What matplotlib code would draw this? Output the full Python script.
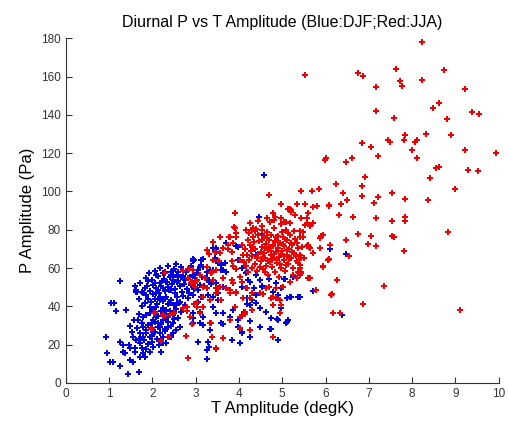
import matplotlib
matplotlib.use("Agg")
import matplotlib.pyplot as plt

plt.rcParams['font.family'] = ['Liberation Sans', 'DejaVu Sans']

# DJF (blue) points: (T amplitude, P amplitude)
djf_pts = [
    (4.58,108.8),(1.26,53.0),(1.04,41.6),(1.12,41.9),(1.17,37.7),(1.39,37.9),(0.94,23.8),(0.96,15.5),
    (1.02,10.8),(1.09,10.8),(1.69,5.9),(1.44,4.5),(1.25,8.9),(1.25,21.5),(1.32,19.8),(1.36,15.8),
    (1.31,16.3),(1.48,29.7),(1.52,26.8),(1.55,24.2),(1.63,22.4),(1.46,19.8),(1.49,18.1),(1.59,16.3),
    (1.48,12.0),(1.55,11.1),(1.71,20.7),(1.75,18.1),(1.79,15.5),(1.86,17.5),(1.94,16.3),(1.82,13.7),
    (1.71,13.7),(1.67,32.9),(1.75,31.1),(1.86,27.6),(1.71,25.9),(1.79,24.2),(1.94,24.2),(1.98,21.5),
    (2.02,18.9),(2.21,16.3),(2.25,20.7),(1.63,47.6),(1.79,46.8),(1.86,45.9),(2.09,46.8),(2.17,43.3),
    (2.32,45.0),(2.40,41.6),(1.94,39.8),(2.02,32.9),(2.13,31.1),(2.25,32.9),(2.36,29.4),(2.48,31.1),
    (1.86,35.5),(1.79,34.6),(2.32,38.1),(2.44,24.2),(2.32,20.7),(2.17,25.9),(2.06,26.8),
    (1.59,50.8),(1.71,52.0),(1.90,53.2),(2.08,56.3),(2.25,57.2),(2.40,55.4),(2.44,58.1),
    (1.63,48.5),(1.75,47.6),(1.82,49.4),(2.02,51.1),(2.17,52.0),(2.32,52.8),(2.48,53.7),(2.13,48.5),
    (2.25,49.4),(2.36,50.2),(2.44,48.5),(1.65,47.6),(1.88,50.6),(2.06,52.0),(2.09,56.3),(2.26,54.1),
    (2.48,55.1),(2.57,52.8),(2.67,55.4),(2.76,53.7),(2.86,55.4),(2.94,56.3),(3.02,57.2),(2.96,64.2),
    (3.13,64.2),(3.17,60.7),(3.48,69.7),(3.45,64.5),(3.52,62.4),(3.25,54.6),(3.36,51.5),(3.48,52.0),
    (3.28,45.9),(3.40,44.7),(3.52,46.8),(3.05,42.4),(3.13,45.0),(2.94,45.9),(2.82,44.2),(2.63,42.4),
    (2.52,46.8),(2.17,45.0),(2.09,39.8),(2.25,39.0),(2.56,41.6),(2.09,34.6),(2.32,32.9),
    (2.63,29.4),(2.17,29.4),(1.98,31.1),(1.79,29.4),(1.86,25.9),(2.02,26.8),(2.48,25.9),
    (3.05,21.5),(3.26,12.3),(3.17,34.6),(3.09,31.1),(2.86,34.6),(2.94,36.3),(2.94,64.5),(3.09,60.7),
    (3.40,70.3),(3.46,68.5),(3.59,61.6),(3.63,59.0),(3.40,59.0),(3.94,71.5),(3.98,64.2),(3.71,58.1),
    (4.17,57.2),(4.21,53.7),(4.06,50.2),(4.48,53.7),(4.54,50.6),(4.69,54.1),(4.86,52.0),(5.06,54.1),
    (5.17,44.7),(5.36,45.0),(5.71,48.0),(6.11,69.7),(6.47,67.4),(6.37,35.6),(5.40,45.0),(3.63,50.2),
    (3.52,43.3),(3.40,39.8),(3.63,36.3),(3.86,38.1),(3.98,32.9),(4.25,40.7),(4.40,41.6),(4.63,37.2),
    (4.75,33.7),(4.90,32.9),(5.09,31.1),(5.13,32.9),(4.48,29.4),(4.71,28.0),(4.90,22.4),(4.25,23.8),
    (4.02,20.7),(3.83,22.4),(3.62,30.8),(3.33,27.6),(3.29,21.5),(3.25,12.5),(2.94,31.1),
    (4.46,86.8),(4.52,77.7),(4.39,66.8),(4.08,59.8),(4.19,57.7),(4.39,56.3),(4.25,52.8),(4.34,49.4),
    (4.54,50.2),(4.40,45.9),(4.79,47.6),(4.90,45.9),(4.96,49.4),(5.03,54.3),(5.10,44.2),(5.19,45.0),
    (4.19,44.2),(4.19,41.1),(4.31,43.3),(4.48,39.0),(4.97,39.0),(4.11,37.2),(4.08,35.1),
    (4.25,32.3),(4.73,28.2),(4.88,33.4),(5.10,31.7),(4.06,26.4),(4.26,24.0),(5.25,55.4),
    (3.69,73.2),(3.48,70.3),(3.44,65.0),(3.17,64.5),(3.13,61.6),(2.94,63.8),(2.90,61.0),(3.05,59.0),
    (3.33,59.0),(3.59,59.0),(3.67,62.4),(3.98,71.1),(2.48,58.6),(2.56,56.3),(2.86,55.4),(2.98,54.6),
    (3.29,53.7),(3.31,18.9),(3.25,17.2),(3.59,31.1),(3.98,29.4),(4.06,26.2),(3.17,30.3),(2.94,33.7),
    (3.09,37.2),(3.48,36.3),(3.79,34.3),
    (1.85,55.0),(1.92,57.5),(2.00,54.0),(2.05,58.5),(2.12,56.0),(2.18,60.2),(2.22,53.5),(2.30,58.0),
    (2.35,61.0),(2.42,56.5),(2.50,59.5),(2.55,62.0),(2.60,57.8),(2.65,60.8),(2.70,55.8),(2.78,58.2),
    (1.88,50.5),(1.95,48.0),(2.02,46.5),(2.08,49.8),(2.15,47.2),(2.20,50.8),(2.28,47.8),(2.33,52.5),
    (2.38,48.8),(2.45,51.5),(2.52,49.0),(2.58,53.0),(2.63,50.5),(2.68,47.5),(2.73,51.8),(2.80,49.2),
    (1.90,44.0),(1.97,42.5),(2.05,43.8),(2.10,41.2),(2.18,44.5),(2.25,42.8),(2.30,44.0),(2.36,41.5),
    (2.44,43.5),(2.50,40.5),(2.57,44.8),(2.62,42.0),(2.70,45.5),(2.75,40.8),(1.95,36.5),(2.00,38.8),
    (2.07,37.0),(2.13,35.0),(2.20,37.8),(2.27,36.2),(2.35,34.8),(2.40,37.5),(2.47,35.5),(2.55,38.5),
    (2.60,34.0),(2.67,37.0),(1.90,30.5),(2.00,28.5),(2.06,31.8),(2.12,29.0),(2.20,30.8),(2.28,28.2),
    (2.35,32.0),(2.42,29.5),(2.50,33.5),(2.55,27.5),(1.80,22.5),(1.90,20.5),(2.00,24.5),(2.10,22.8),
    (2.15,20.0),(2.25,24.0),(2.30,27.0),(1.60,18.5),(1.70,23.0),(1.65,28.5),(1.58,33.0),(1.70,36.0),
    (1.75,40.0),(1.68,44.0),(1.82,42.0),(2.85,47.0),(2.90,51.0),(2.95,49.0),(3.00,53.5),(3.05,48.5),
    (3.10,51.0),(3.15,55.5),(3.20,50.5),(3.25,58.0),(3.30,52.5),
]

# JJA (red) points: (T amplitude, P amplitude)
jja_pts = [
    (8.22,178.0),(5.53,160.8),(6.74,161.9),(6.86,160.1),(7.62,164.0),(7.71,157.7),(7.76,155.0),
    (8.22,158.0),(8.73,163.4),(7.17,154.4),(9.21,153.4),(7.17,141.9),(7.57,138.6),(8.49,143.8),
    (8.61,146.0),(9.38,141.4),(9.54,140.7),(8.80,138.0),(8.89,129.7),(8.31,130.2),(6.83,125.5),
    (7.04,123.4),(7.45,127.1),(7.48,125.9),(7.83,129.4),(7.81,127.1),(8.06,125.9),(8.11,126.8),
    (8.00,121.9),(8.10,117.7),(9.21,121.5),(9.94,120.1),(5.98,116.3),(6.02,117.7),(6.47,115.6),
    (6.60,117.7),(7.22,118.7),(6.92,107.8),(8.42,106.8),(8.56,112.3),(8.61,113.0),(9.28,111.4),
    (9.52,110.9),(9.00,101.4),(6.23,104.1),(6.85,103.1),(5.43,100.5),(5.69,100.3),(5.85,101.5),
    (6.40,99.4),(6.85,97.7),(7.22,97.2),(7.54,99.3),(5.53,93.7),(5.71,92.0),(5.80,92.5),(6.08,92.5),
    (6.36,93.2),(6.50,95.6),(7.12,94.1),(7.83,96.1),(8.37,95.6),(6.31,87.8),(6.64,86.8),(7.17,86.2),
    (7.53,84.5),(7.84,86.8),(7.84,84.5),(8.82,78.8),(5.40,79.5),(5.53,82.6),(5.63,82.1),(5.70,83.3),
    (5.57,86.2),(5.90,76.9),(5.94,77.4),(5.47,76.2),(6.46,74.6),(6.74,77.9),(7.04,76.9),(7.54,76.7),
    (7.57,76.0),(6.97,72.7),(7.17,71.5),(7.81,68.9),(5.57,71.6),(5.62,70.9),(5.88,70.4),(6.11,72.0),
    (5.71,67.8),(6.53,66.2),(5.44,65.2),(6.07,64.5),(5.94,61.0),(5.40,61.6),(5.44,58.1),(5.44,57.2),
    (5.65,54.6),(6.27,53.7),(7.34,50.4),(6.15,46.2),(6.87,41.5),(6.34,36.3),(9.10,37.9),
    (2.29,57.2),(2.70,58.4),(2.84,59.5),(3.30,67.1),(3.38,57.7),(3.46,59.0),(2.92,52.5),(2.99,52.3),
    (3.25,49.4),(3.52,49.4),(2.71,39.0),(2.79,37.7),(3.03,41.9),(2.97,41.2),(3.18,39.5),(2.49,36.3),
    (2.27,35.0),(2.92,30.8),(3.33,31.1),(3.38,24.2),(3.48,17.5),(2.19,22.1),(2.39,24.2),(1.96,28.0),
    (2.04,36.7),(2.82,13.2),(2.77,24.7),(2.06,36.7),(2.25,35.5),(2.40,35.5),(1.98,28.0),(2.21,22.1),
    (2.36,24.2),
    (4.69,98.1),(4.98,93.2),(5.33,93.7),(3.90,88.8),(5.13,90.6),(5.20,90.2),(4.79,88.5),(4.83,86.8),
    (5.29,87.6),(5.60,88.5),(6.08,92.9),(4.25,83.3),(3.90,80.7),(4.17,79.8),(4.29,79.8),(4.52,79.8),
    (3.56,76.3),(3.79,76.3),(3.75,72.0),(3.40,73.7),(3.25,69.4),(3.56,68.0),(3.83,68.5),(3.40,64.2),
    (5.94,77.2),(5.87,75.5),(5.60,72.0),(5.63,70.3),(5.71,67.7),(5.94,60.7),(6.06,64.2),(6.26,53.7),
    (6.13,45.9),(6.16,36.3),(5.60,54.6),(5.40,59.8),(5.36,58.1),(5.79,48.5),(5.25,56.3),
    (3.25,60.7),(3.09,56.3),(2.94,59.0),(2.82,54.6),(2.98,50.2),(3.17,50.2),(3.40,53.7),(3.48,49.4),
    (3.63,54.6),(3.86,52.0),(4.06,52.8),(3.79,48.5),(3.94,46.8),(4.17,49.4),(4.25,44.2),(4.48,46.8),
    (4.63,49.4),(4.79,45.0),(4.94,43.3),(4.79,40.7),(4.13,37.2),(4.02,34.6),(3.90,39.8),(3.59,43.3),
    (3.33,43.3),(3.17,45.0),(3.02,39.8),(2.79,39.8),(2.86,34.6),(3.09,36.3),(3.36,31.1),(3.48,18.1),
    (2.82,12.8),(3.63,23.3),(4.02,28.5),(3.79,32.9),
    (5.17,90.6),(5.21,89.4),(5.34,93.7),(5.52,93.7),(5.70,92.0),(4.97,86.4),(5.29,87.9),(5.44,86.4),
    (5.56,83.3),(5.63,82.4),(5.09,84.2),(5.17,83.3),(4.33,80.7),(4.36,79.3),(4.21,74.6),(4.33,71.1),
    (4.16,61.2),(4.30,60.2),(4.19,49.4),(4.29,46.8),(4.09,44.2),(4.56,46.3),(4.69,50.2),(4.85,49.4),
    (4.73,44.2),(4.86,44.5),(5.02,50.2),(5.17,52.8),(5.33,54.6),(5.40,56.3),(5.63,54.6),(4.98,40.7),
    (4.94,36.3),(4.29,38.1),(4.13,35.8),(4.79,24.2),(4.25,27.6),(5.36,62.4),(5.40,59.8),(5.39,57.2),
    (3.88,81.5),(3.93,78.4),(3.77,76.3),(3.94,76.0),(3.86,72.9),(3.63,70.3),(3.75,69.7),(4.06,72.0),
    (3.31,67.3),(3.44,68.5),(3.54,63.8),(3.83,63.8),(4.02,64.2),(3.86,61.0),(3.94,59.3),(4.09,66.8),
    (2.71,58.6),(2.82,59.3),(3.02,53.7),(2.90,52.0),(3.21,54.6),(3.36,57.2),(3.71,49.4),(3.83,53.7),
    (4.02,55.4),(3.56,50.2),(3.48,46.8),(3.79,46.8),(3.94,47.6),
    (4.22,78.5),(4.26,72.0),(4.30,66.5),(4.33,76.0),(4.36,62.0),(4.38,70.0),(4.40,80.5),(4.42,58.5),
    (4.45,67.5),(4.47,74.0),(4.50,63.5),(4.52,71.0),(4.53,82.0),(4.55,59.5),(4.57,68.0),(4.58,76.5),
    (4.60,65.0),(4.62,72.5),(4.63,61.0),(4.65,79.0),(4.66,69.5),(4.68,56.5),(4.70,74.5),(4.71,63.0),
    (4.72,84.0),(4.74,67.0),(4.75,77.5),(4.77,60.5),(4.78,71.5),(4.80,65.5),(4.81,81.0),(4.83,58.0),
    (4.84,74.0),(4.86,68.5),(4.87,62.5),(4.89,77.0),(4.90,70.5),(4.92,55.5),(4.93,66.0),(4.95,73.0),
    (4.96,83.0),(4.98,60.0),(5.00,69.0),(5.02,76.0),(5.03,64.0),(5.05,71.5),(5.07,58.5),(5.08,80.0),
    (5.10,67.0),(5.12,74.5),(5.14,62.0),(5.15,70.0),(5.18,77.5),(5.20,65.5),(5.22,72.0),(5.25,60.0),
    (5.27,68.0),(5.30,75.0),(5.33,63.5),(5.36,70.5),(4.24,64.0),(4.28,69.0),(4.35,73.5),(4.41,65.5),
    (4.44,77.5),(4.48,60.5),(4.51,68.5),(4.54,74.5),(4.56,66.0),(4.59,70.5),(4.61,58.0),(4.64,75.5),
    (4.67,63.5),(4.69,71.0),(4.73,69.0),(4.76,64.5),(4.79,72.0),(4.82,67.5),(4.85,76.0),(4.88,64.0),
    (4.91,73.5),(4.94,62.0),(4.97,67.5),(4.99,79.0),(5.01,72.5),(5.04,66.5),(5.06,75.0),(5.09,61.5),
    (5.11,69.5),(5.13,78.5),(5.16,64.5),(5.19,73.0),(5.23,68.5),(5.28,79.5),(5.32,66.5),(5.35,73.0),
    (5.38,64.0),(4.65,86.0),(4.82,85.0),(5.05,84.0),(4.45,84.5),(4.15,70.0),(4.18,67.0),(4.12,63.0),
    (4.20,58.0),(5.40,67.0),(5.45,71.0),(5.50,65.0),(5.42,76.0),(5.48,79.0),
]

djf_x = [p[0] for p in djf_pts]
djf_y = [p[1] for p in djf_pts]
jja_x = [p[0] for p in jja_pts]
jja_y = [p[1] for p in jja_pts]

x_ticks = list(range(0, 11))
y_ticks = list(range(0, 181, 20))

fig = plt.figure(figsize=(5.10, 4.23), dpi=100)
ax = fig.add_axes([0.129, 0.0946, 0.849, 0.815])

ax.plot(djf_x, djf_y, linestyle='none', marker='P', markersize=4.3,
        color='#0000e0', markeredgewidth=0)
ax.plot(jja_x, jja_y, linestyle='none', marker='P', markersize=4.3,
        color='#ee0000', markeredgewidth=0)

ax.set_xlim(0, 10)
ax.set_ylim(0, 180)
ax.set_xticks(x_ticks)
ax.set_yticks(y_ticks)
ax.tick_params(direction='in', length=4, width=0.8, labelsize=8.5,
               colors='#333333', labelcolor='#333333')
for s in ['top', 'right']:
    ax.spines[s].set_visible(False)
for s in ['left', 'bottom']:
    ax.spines[s].set_color('#333333')
    ax.spines[s].set_linewidth(0.8)

ax.set_xlabel('T Amplitude (degK)', fontsize=12, labelpad=1)
ax.set_ylabel('P Amplitude (Pa)', fontsize=12, labelpad=4)
ax.set_title('Diurnal P vs T Amplitude (Blue:DJF;Red:JJA)', fontsize=11.5, pad=8)

fig.savefig('out.png', dpi=100)
